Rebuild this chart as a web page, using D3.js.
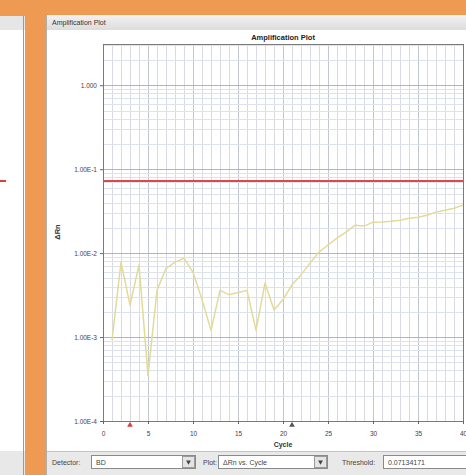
<!DOCTYPE html>
<html>
<head>
<meta charset="utf-8">
<script src="https://cdn.jsdelivr.net/npm/d3@7/dist/d3.min.js"></script>
<style>
  html, body { margin: 0; padding: 0; background: #ef9a52; }
  svg { display: block; }
  text { font-family: "Liberation Sans", "DejaVu Sans", sans-serif; }
</style>
</head>
<body>
<svg id="chart" width="466" height="475"></svg>
<script>
// Delta Rn per cycle for detector BD
const cycles = d3.range(1, 41);
const deltaRn = [
  9.2e-4, 7.8e-3, 2.4e-3, 7.2e-3, 3.5e-4, 3.6e-3, 6.6e-3, 7.8e-3, 8.7e-3, 5.9e-3,
  2.8e-3, 1.2e-3, 3.6e-3, 3.2e-3, 3.4e-3, 3.6e-3, 1.2e-3, 4.4e-3, 2.1e-3, 2.8e-3,
  4.2e-3, 5.5e-3, 7.6e-3, 1.03e-2, 1.25e-2, 1.51e-2, 1.78e-2, 2.15e-2, 2.1e-2, 2.34e-2,
  2.35e-2, 2.4e-2, 2.47e-2, 2.61e-2, 2.68e-2, 2.83e-2, 3.08e-2, 3.25e-2, 3.43e-2, 3.73e-2
];
const threshold = 0.07134171;
const baselineStart = 3;
const baselineEnd = 21;

const yTickValues = [1e-4, 1e-3, 1e-2, 1e-1, 1];
const yTickLabels = ["1.00E-4", "1.00E-3", "1.00E-2", "1.00E-1", "1.000"];
const xTickValues = [0, 5, 10, 15, 20, 25, 30, 35, 40];

const svg = d3.select("#chart");

// window chrome
svg.append("rect").attr("x", 0).attr("y", 0).attr("width", 466).attr("height", 475).attr("fill", "#ef9a52");

// neighbouring panel on the left
svg.append("rect").attr("x", 0).attr("y", 16).attr("width", 25).attr("height", 459).attr("fill", "#ffffff");
svg.append("rect").attr("x", 0).attr("y", 16).attr("width", 25).attr("height", 14).attr("fill", "#e6e6e6");
svg.append("rect").attr("x", 0).attr("y", 451).attr("width", 25).attr("height", 24).attr("fill", "#e8e8e8");
svg.append("line").attr("x1", 23.5).attr("x2", 23.5).attr("y1", 16).attr("y2", 475).attr("stroke", "#9a9a9a");
svg.append("line").attr("x1", 0).attr("x2", 6).attr("y1", 181).attr("y2", 181).attr("stroke", "#d84040").attr("stroke-width", 2);

// main panel
svg.append("rect").attr("x", 46).attr("y", 15).attr("width", 420).attr("height", 460).attr("fill", "#ffffff");
const grad = svg.append("defs").append("linearGradient").attr("id", "hdr").attr("x1", 0).attr("x2", 0).attr("y1", 0).attr("y2", 1);
grad.append("stop").attr("offset", "0%").attr("stop-color", "#f2f2f2");
grad.append("stop").attr("offset", "100%").attr("stop-color", "#dcdcdc");
svg.append("rect").attr("x", 46).attr("y", 15).attr("width", 420).attr("height", 15).attr("fill", "url(#hdr)");
svg.append("line").attr("x1", 46.5).attr("x2", 46.5).attr("y1", 15).attr("y2", 475).attr("stroke", "#b0b0b0");
svg.append("text").attr("x", 52).attr("y", 25).attr("font-size", 7).attr("fill", "#333").text("Amplification Plot");

// plot area
const margin = { left: 103, top: 44, right: 463, bottom: 421 };
const x = d3.scaleLinear().domain([0, 40]).range([margin.left, margin.right]);
const y = d3.scaleLog().domain([1e-4, 3.1]).range([margin.bottom, margin.top]);
const snap = v => Math.round(v) + 0.5;

svg.append("text").attr("x", 283).attr("y", 40).attr("text-anchor", "middle")
  .attr("font-size", 7.5).attr("font-weight", "bold").attr("fill", "#222").text("Amplification Plot");

const grid = svg.append("g");
// vertical grid, one line per cycle
grid.selectAll("line.v").data(d3.range(1, 40)).join("line")
  .attr("x1", d => snap(x(d))).attr("x2", d => snap(x(d)))
  .attr("y1", margin.top).attr("y2", margin.bottom)
  .attr("stroke", d => d % 5 === 0 ? "#c2c6d0" : "#d8dbe3").attr("stroke-width", 1);

// horizontal grid: log minors and decades
const minors = [];
for (let e = -4; e <= 0; e++) {
  for (let m = 2; m <= 9; m++) {
    const v = m * Math.pow(10, e);
    if (v < 3.1) minors.push(v);
  }
}
grid.selectAll("line.hm").data(minors).join("line")
  .attr("x1", margin.left).attr("x2", margin.right)
  .attr("y1", d => snap(y(d))).attr("y2", d => snap(y(d)))
  .attr("stroke", "#dce2ee").attr("stroke-width", 1);
grid.selectAll("line.hd").data(yTickValues.slice(1)).join("line")
  .attr("x1", margin.left).attr("x2", margin.right)
  .attr("y1", d => snap(y(d))).attr("y2", d => snap(y(d)))
  .attr("stroke", "#b0b4be").attr("stroke-width", 1);

// frame
svg.append("rect").attr("x", margin.left + 0.5).attr("y", margin.top + 0.5)
  .attr("width", margin.right - margin.left).attr("height", margin.bottom - margin.top)
  .attr("fill", "none").attr("stroke", "#7a7a7a");

// amplification curve
const line = d3.line().x((d, i) => x(cycles[i])).y(d => y(d));
svg.append("path").datum(deltaRn).attr("d", line)
  .attr("fill", "none").attr("stroke", "#e4da98").attr("stroke-width", 1.5).attr("stroke-linejoin", "round");

// threshold
svg.append("line").attr("x1", margin.left + 1).attr("x2", margin.right)
  .attr("y1", Math.round(y(threshold))).attr("y2", Math.round(y(threshold)))
  .attr("stroke", "#e04848").attr("stroke-width", 2);

// axes
const yAxis = d3.axisLeft(y).tickValues(yTickValues).tickSize(3)
  .tickFormat(d => yTickLabels[yTickValues.indexOf(d)]);
const gy = svg.append("g").attr("transform", `translate(${margin.left},0)`).call(yAxis);
gy.select(".domain").remove();
gy.selectAll("line").attr("stroke", "#666");
gy.selectAll("text").attr("font-size", 6.5).attr("fill", "#444").attr("font-family", "Liberation Sans, sans-serif");

const xAxis = d3.axisBottom(x).tickValues(xTickValues).tickSize(3).tickPadding(7).tickFormat(d3.format("d"));
const gx = svg.append("g").attr("transform", `translate(0,${margin.bottom})`).call(xAxis);
gx.select(".domain").remove();
gx.selectAll("line").attr("stroke", "#666");
gx.selectAll("text").attr("font-size", 6.5).attr("fill", "#444").attr("font-family", "Liberation Sans, sans-serif");

// baseline markers
const tri = d3.symbol().type(d3.symbolTriangle).size(14);
svg.append("path").attr("d", tri).attr("transform", `translate(${x(baselineStart)},${margin.bottom + 4})`).attr("fill", "#d84040");
svg.append("path").attr("d", tri).attr("transform", `translate(${x(baselineEnd)},${margin.bottom + 4})`).attr("fill", "#555");

// axis titles
svg.append("text").attr("x", 283).attr("y", 447).attr("text-anchor", "middle")
  .attr("font-size", 7).attr("font-weight", "bold").attr("fill", "#333").text("Cycle");
svg.append("text").attr("transform", "translate(60,232) rotate(-90)").attr("text-anchor", "middle")
  .attr("font-size", 7.5).attr("font-weight", "bold").attr("fill", "#333").text("ΔRn");

// control strip
svg.append("rect").attr("x", 47).attr("y", 451).attr("width", 419).attr("height", 24).attr("fill", "#e9e9e9");
svg.append("line").attr("x1", 47).attr("x2", 466).attr("y1", 451.5).attr("y2", 451.5).attr("stroke", "#c4c4c4");

function combo(x0, x1, label, value, arrow) {
  svg.append("text").attr("x", label.x).attr("y", 465).attr("font-size", 7).attr("fill", "#444").text(label.t);
  svg.append("rect").attr("x", x0 + 0.5).attr("y", 455.5).attr("width", x1 - x0).attr("height", 13)
    .attr("fill", "#fff").attr("stroke", "#8a8a8a");
  svg.append("text").attr("x", x0 + 5).attr("y", 465).attr("font-size", 7).attr("fill", "#444").text(value);
  if (arrow) {
    svg.append("rect").attr("x", x1 - 12.5).attr("y", 456.5).attr("width", 12).attr("height", 11)
      .attr("fill", "#e4e4e4").attr("stroke", "#9a9a9a");
    svg.append("path").attr("d", d3.symbol().type(d3.symbolTriangle).size(10))
      .attr("transform", `translate(${x1 - 6.5},462) rotate(180)`).attr("fill", "#444");
  }
}
combo(91, 195, { x: 52, t: "Detector:" }, "BD", true);
combo(218, 327, { x: 203, t: "Plot:" }, "ΔRn vs. Cycle", true);
combo(383, 466, { x: 342, t: "Threshold:" }, String(threshold), false);
</script>
</body>
</html>
